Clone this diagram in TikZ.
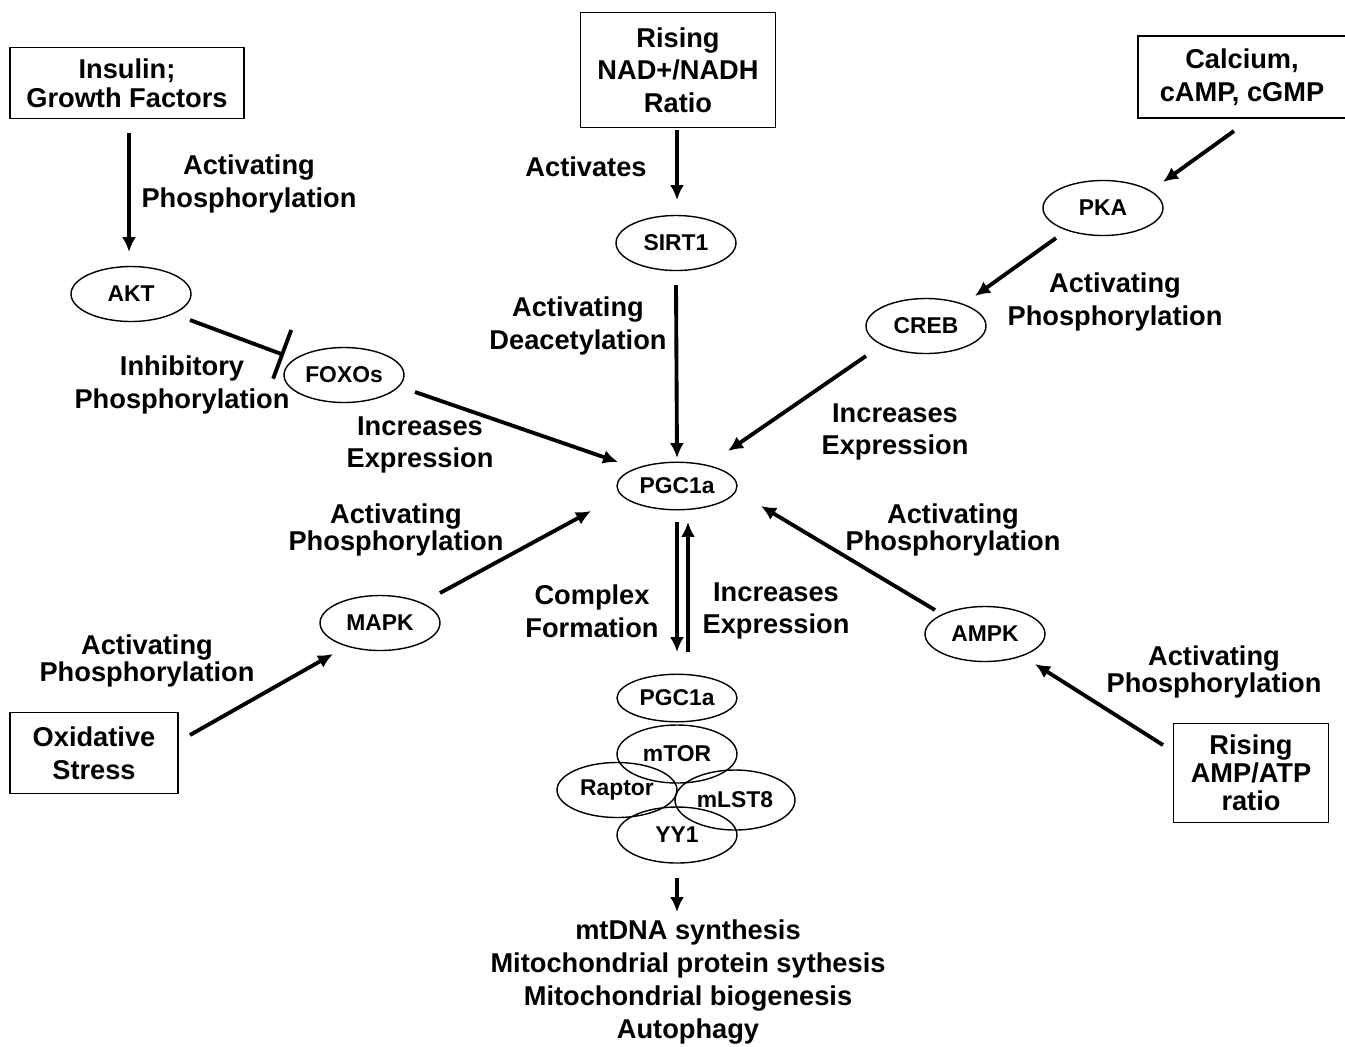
\documentclass[tikz,border=0pt]{standalone}
\usepackage{fontspec}
\setmainfont{Liberation Sans}
\usetikzlibrary{shapes.geometric,arrows.meta}

\begin{document}
\begin{tikzpicture}[x=0.02cm, y=-0.02cm, >={Latex[length=8.5pt,width=8pt]},
    pill/.style={draw, ellipse, line width=0.8pt, inner sep=0pt, minimum width=2.4cm, minimum height=1.1cm, font=\fontsize{13}{15}\selectfont\bfseries},
    srcbox/.style={draw, line width=0.8pt, align=center, inner sep=0pt, font=\fontsize{15.5}{18.5}\selectfont\bfseries},
    lbl/.style={align=center, inner sep=0pt, font=\fontsize{15.5}{18.5}\selectfont\bfseries},
    lbltight/.style={align=center, inner sep=0pt, font=\fontsize{15.5}{15}\selectfont\bfseries},
    link/.style={->, line width=2.2pt}]
        \useasboundingbox (0,0) rectangle (1345,1046);

        % Segnali di partenza
        \node[srcbox, minimum width=4.68cm, minimum height=1.42cm, font=\fontsize{15.5}{16.5}\selectfont\bfseries] (ins) at (127,83) {Insulin;\\Growth Factors};
        \node[srcbox, minimum width=3.9cm, minimum height=2.3cm] (nad) at (678,70) {Rising\\NAD+/NADH\\Ratio};
        \node[lbl, minimum width=4.14cm, minimum height=1.62cm] (cal) at (1242,77) {Calcium,\\cAMP, cGMP};
        \draw[line width=0.8pt] (cal.north east) -- (cal.north west) -- (cal.south west) -- (cal.south east);
        \node[srcbox, minimum width=3.36cm, minimum height=1.62cm] (oxi) at (94,753) {Oxidative\\Stress};
        \node[srcbox, minimum width=3.1cm, minimum height=1.98cm, font=\fontsize{15.5}{16}\selectfont\bfseries] (amp) at (1251,773) {Rising\\AMP/ATP\\ratio};

        % Proteine
        \node[pill] (akt) at (131,294) {AKT};
        \node[pill] (foxo) at (344,375) {FOXOs};
        \node[pill] (sirt) at (676,243) {SIRT1};
        \node[pill] (pka) at (1103,208) {PKA};
        \node[pill] (creb) at (926,326) {CREB};
        \node[pill, minimum height=0.95cm] (pgc) at (677,486) {PGC1a};
        \node[pill] (mapk) at (380,623) {MAPK};
        \node[pill] (ampk) at (985,634) {AMPK};

        % Complesso
        \node[pill, minimum height=0.95cm] (pgcb) at (677,698) {PGC1a};
        \node[pill, minimum height=1.16cm] (mtor) at (677,754) {mTOR};
        \node[pill] (raptor) at (617,790) {Raptor};
        \node[pill, minimum height=1.2cm] (mlst) at (735,800) {mLST8};
        \node[pill, minimum height=1.12cm] (yy) at (677,835) {YY1};

        % Effetti finali
        \node[lbl, font=\fontsize{15.5}{18.6}\selectfont\bfseries] (outcome) at (688,982) {mtDNA synthesis\\Mitochondrial protein sythesis\\Mitochondrial biogenesis\\Autophagy};

        % Frecce
        \draw[link] ([shift={(2,50)}]ins.center) -- ([shift={(-2,-42)}]akt.center);
        \draw[link] ([shift={(-1,60)}]nad.center) -- ([shift={(1,-43)}]sirt.center);
        \draw[link] ([shift={(-8,54)}]cal.center) -- ([shift={(60,-26)}]pka.center);
        \draw[link] ([shift={(-47,30)}]pka.center) -- ([shift={(49,-30)}]creb.center);
        \draw[link] ([shift={(0,42)}]sirt.center) -- ([shift={(0,-28)}]pgc.center);
        \draw[link] ([shift={(-60,30)}]creb.center) -- ([shift={(51,-35)}]pgc.center);
        \draw[link] ([shift={(71,17)}]foxo.center) -- ([shift={(-59,-24)}]pgc.center);
        \draw[line width=2.2pt, -{Bar[width=1.04cm, line width=2.2pt]}] ([shift={(59,26)}]akt.center) -- ([shift={(-60,-20)}]foxo.center);
        \draw[link] ([shift={(60,-30)}]mapk.center) -- ([shift={(-86,25)}]pgc.center);
        \draw[link] ([shift={(-50,-24)}]ampk.center) -- ([shift={(84,20)}]pgc.center);
        \draw[link] ([shift={(96,-18)}]oxi.center) -- ([shift={(-47,31)}]mapk.center);
        \draw[link] ([shift={(-88,-28)}]amp.center) -- ([shift={(50,30)}]ampk.center);
        \draw[link] ([shift={(0,36)}]pgc.center) -- ([shift={(0,-46)}]pgcb.center);
        \draw[link] ([shift={(11,-46)}]pgcb.center) -- ([shift={(11,36)}]pgc.center);
        \draw[link] ([shift={(0,43)}]yy.center) -- ([shift={(-11,-70)}]outcome.center);

        % Etichette
        \node[lbl] (l1) at (249,184) {Activating\\Phosphorylation};
        \node[lbl] (l2) at (586,167) {Activates};
        \node[lbl] (l3) at (578,326) {Activating\\Deacetylation};
        \node[lbl] (l4) at (1115,302) {Activating\\Phosphorylation};
        \node[lbl] (l5) at (182,385) {Inhibitory\\Phosphorylation};
        \node[lbl] (l6) at (420,445) {Increases\\Expression};
        \node[lbl] (l7) at (895,432) {Increases\\Expression};
        \node[lbltight] (l8) at (396,530) {Activating\\Phosphorylation};
        \node[lbltight] (l9) at (953,530) {Activating\\Phosphorylation};
        \node[lbl] (l10) at (592,611) {Complex\\Formation};
        \node[lbl] (l11) at (776,611) {Increases\\Expression};
        \node[lbltight] (l12) at (147,661) {Activating\\Phosphorylation};
        \node[lbltight] (l13) at (1214,672) {Activating\\Phosphorylation};
    \end{tikzpicture}
\end{document}
